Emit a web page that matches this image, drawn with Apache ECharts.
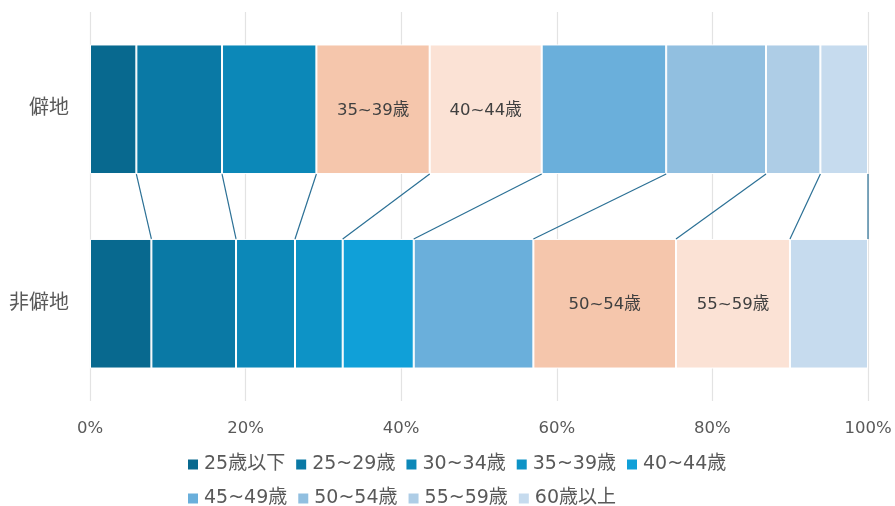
<!DOCTYPE html>
<html>
<head>
<meta charset="utf-8">
<script src="https://cdn.jsdelivr.net/npm/echarts@6/dist/echarts.min.js"></script>
<style>
html,body{margin:0;padding:0;background:#fff;}
#chart{width:895px;height:506px;}
</style>
</head>
<body>
<div id="chart"></div>
<script>
// Categories (top to bottom)
const categories = ['僻地', '非僻地'];
// Series names (age groups)
const seriesNames = ['25歳以下', '25~29歳', '30~34歳', '35~39歳', '40~44歳', '45~49歳', '50~54歳', '55~59歳', '60歳以上'];
// Shares (%) per series: [僻地, 非僻地]
const v25under = [5.96, 7.89];
const v25_29 = [11.01, 10.88];
const v30_34 = [12.13, 7.58];
const v35_39 = [14.56, 6.13];
const v40_44 = [14.40, 9.13];
const v45_49 = [16.00, 15.38];
const v50_54 = [12.83, 18.33];
const v55_59 = [6.99, 14.65];
const v60over = [6.12, 10.03];
const values = [v25under, v25_29, v30_34, v35_39, v40_44, v45_49, v50_54, v55_59, v60over];
// Highlighted (labelled) segments per category
const highlightTop = ['35~39歳', '40~44歳'];
const highlightBottom = ['50~54歳', '55~59歳'];
// Axis ticks
const xTicks = [0, 20, 40, 60, 80, 100];

const baseColors = ['#08698f', '#0a79a5', '#0c88b8', '#0d93c6', '#10a0d8', '#6aafdb', '#91bfe0', '#aecde6', '#c6dbee'];
const hlColors = ['#f5c6ac', '#fbe2d5'];
const FONT = "'DejaVu Sans', 'Noto Sans CJK JP', sans-serif";
const BAR_RATIO = 0.666;

const highlights = [highlightTop, highlightBottom];

const barSeries = seriesNames.map((name, si) => ({
  name: name,
  type: 'bar',
  stack: 'total',
  barWidth: (BAR_RATIO * 100) + '%',
  itemStyle: { color: baseColors[si], borderColor: '#ffffff', borderWidth: 1 },
  emphasis: { disabled: true },
  data: values[si].map((v, ci) => {
    const hi = highlights[ci].indexOf(name);
    if (hi >= 0) {
      return {
        value: v,
        itemStyle: { color: hlColors[hi] },
        label: {
          show: true, position: 'inside', formatter: name,
          color: '#404040', fontSize: 16.5, fontFamily: FONT, offset: [0, 1]
        }
      };
    }
    return v;
  })
}));

// Series lines connecting cumulative boundaries
const cumTop = [], cumBot = [];
let a = 0, b = 0;
values.forEach(v => { a += v[0]; b += v[1]; cumTop.push(a); cumBot.push(b); });
const lineData = cumTop.map((t, i) => [Math.min(t, 100), Math.min(cumBot[i], 100)]);

const connectorSeries = {
  type: 'custom',
  name: 'connector',
  silent: true,
  z: 5,
  renderItem: function (params, api) {
    const p1 = api.coord([api.value(0), 0]);
    const p2 = api.coord([api.value(1), 1]);
    const band = api.size([0, 1])[1];
    const half = band * BAR_RATIO / 2;
    return {
      type: 'line',
      shape: { x1: p1[0], y1: p1[1] + half, x2: p2[0], y2: p2[1] - half },
      style: { stroke: '#2b7095', lineWidth: 1.2 }
    };
  },
  encode: { x: [0, 1] },
  data: lineData
};

const chart = echarts.init(document.getElementById('chart'), null, { renderer: 'canvas' });
const legendText = { color: '#595959', fontSize: 19, fontFamily: FONT };
chart.setOption({
  animation: false,
  textStyle: { fontFamily: FONT },
  grid: { left: 90, right: 27, top: 12, bottom: 105, containLabel: false },
  legend: [
    {
      data: seriesNames.slice(0, 5), left: 186, top: 455, itemWidth: 12, itemHeight: 12,
      itemGap: 9, icon: 'rect', textStyle: legendText, selectedMode: false, padding: 0
    },
    {
      data: seriesNames.slice(5), left: 186, top: 489, itemWidth: 12, itemHeight: 12,
      itemGap: 9, icon: 'rect', textStyle: legendText, selectedMode: false, padding: 0
    }
  ],
  xAxis: {
    type: 'value', min: xTicks[0], max: xTicks[xTicks.length - 1], interval: xTicks[1] - xTicks[0],
    axisLine: { show: false }, axisTick: { show: false },
    splitLine: { show: true, showMinLine: true, showMaxLine: true, lineStyle: { color: '#e3e3e3', width: 1.2 } },
    axisLabel: { formatter: '{value}%', color: '#595959', fontSize: 16.5, fontFamily: FONT, margin: 19 }
  },
  yAxis: {
    type: 'category', data: categories, inverse: true,
    axisLine: { show: false }, axisTick: { show: false }, splitLine: { show: false },
    axisLabel: { color: '#595959', fontSize: 20, fontFamily: FONT, margin: 21 }
  },
  series: barSeries.concat([connectorSeries])
});
</script>
</body>
</html>
